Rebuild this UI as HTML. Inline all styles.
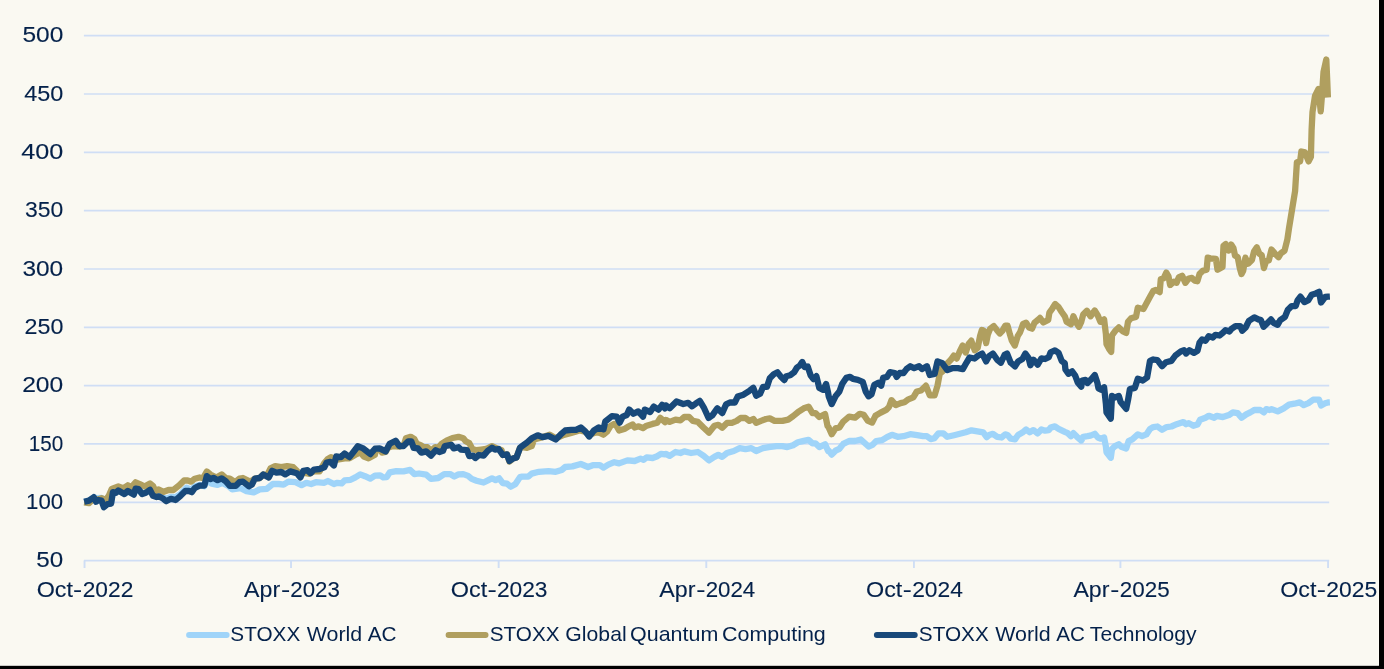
<!DOCTYPE html>
<html><head><meta charset="utf-8"><title>Chart</title>
<style>html,body{margin:0;padding:0;background:#FAF9F2;}body{width:1384px;height:669px;position:relative;overflow:hidden;font-family:"Liberation Sans",sans-serif;}</style>
</head><body>
<svg width="1384" height="669" viewBox="0 0 1384 669" style="position:absolute;left:0;top:0;font-family:'Liberation Sans',sans-serif">
<rect x="0" y="0" width="1384" height="669" fill="#000"/>
<rect x="0" y="0" width="1379.0" height="665.75" fill="#FFFFFA"/>
<rect x="0" y="0" width="1378.45" height="665.2" fill="#FAF9F2"/>
<line x1="83.9" y1="560.63" x2="1329.2" y2="560.63" stroke="#CFDEF5" stroke-width="1.7"/>
<line x1="83.9" y1="502.30" x2="1329.2" y2="502.30" stroke="#CFDEF5" stroke-width="1.7"/>
<line x1="83.9" y1="443.97" x2="1329.2" y2="443.97" stroke="#CFDEF5" stroke-width="1.7"/>
<line x1="83.9" y1="385.64" x2="1329.2" y2="385.64" stroke="#CFDEF5" stroke-width="1.7"/>
<line x1="83.9" y1="327.31" x2="1329.2" y2="327.31" stroke="#CFDEF5" stroke-width="1.7"/>
<line x1="83.9" y1="268.99" x2="1329.2" y2="268.99" stroke="#CFDEF5" stroke-width="1.7"/>
<line x1="83.9" y1="210.66" x2="1329.2" y2="210.66" stroke="#CFDEF5" stroke-width="1.7"/>
<line x1="83.9" y1="152.33" x2="1329.2" y2="152.33" stroke="#CFDEF5" stroke-width="1.7"/>
<line x1="83.9" y1="94.00" x2="1329.2" y2="94.00" stroke="#CFDEF5" stroke-width="1.7"/>
<line x1="83.9" y1="35.67" x2="1329.2" y2="35.67" stroke="#CFDEF5" stroke-width="1.7"/>
<line x1="84.53" y1="560.63" x2="84.53" y2="568.0" stroke="#CFDEF5" stroke-width="1.9"/>
<line x1="291.03" y1="560.63" x2="291.03" y2="568.0" stroke="#CFDEF5" stroke-width="1.9"/>
<line x1="498.66" y1="560.63" x2="498.66" y2="568.0" stroke="#CFDEF5" stroke-width="1.9"/>
<line x1="706.29" y1="560.63" x2="706.29" y2="568.0" stroke="#CFDEF5" stroke-width="1.9"/>
<line x1="913.93" y1="560.63" x2="913.93" y2="568.0" stroke="#CFDEF5" stroke-width="1.9"/>
<line x1="1120.42" y1="560.63" x2="1120.42" y2="568.0" stroke="#CFDEF5" stroke-width="1.9"/>
<line x1="1328.06" y1="560.63" x2="1328.06" y2="568.0" stroke="#CFDEF5" stroke-width="1.9"/>
<path d="M84.2 501.8 L89.0 500.6 L93.8 497.2 L96.7 498.2 L101.5 497.9 L103.9 504.2 L107.5 503.0 L111.1 501.8 L112.9 492.8 L118.3 491.0 L124.3 493.4 L127.8 491.6 L133.8 494.0 L135.6 489.2 L142.2 493.4 L150.0 490.4 L153.0 495.2 L158.9 495.8 L162.5 497.0 L166.1 498.8 L170.9 497.0 L175.7 497.2 L180.5 494.0 L186.5 487.7 L191.2 489.8 L194.8 486.2 L199.6 485.0 L204.4 486.2 L206.8 480.2 L211.6 483.6 L217.6 484.8 L222.3 483.0 L228.3 486.0 L232.2 489.4 L240.6 488.2 L246.5 491.2 L253.7 492.4 L259.7 489.4 L266.9 488.8 L272.8 484.0 L278.8 484.0 L283.6 484.6 L288.4 481.6 L295.6 482.2 L301.6 485.2 L306.3 482.8 L311.1 484.0 L315.9 482.2 L324.3 482.8 L327.9 481.0 L333.9 484.0 L337.4 482.8 L341.6 483.4 L344.6 480.4 L350.6 479.8 L355.4 477.4 L360.2 474.4 L365.0 476.2 L370.3 478.6 L375.0 475.6 L380.2 475.3 L383.2 477.3 L386.7 477.1 L389.7 472.3 L396.3 471.1 L403.5 471.3 L410.1 469.9 L414.3 474.1 L419.0 473.5 L426.2 474.7 L431.0 478.9 L438.2 478.0 L444.2 474.1 L450.1 474.1 L454.3 476.5 L458.5 474.4 L463.3 474.1 L468.1 475.9 L471.7 478.9 L476.5 480.7 L483.6 482.5 L488.4 480.1 L492.0 478.3 L495.6 480.1 L499.2 478.3 L502.8 483.1 L507.0 483.7 L510.6 486.7 L515.3 484.3 L520.0 477.1 L522.2 476.6 L528.2 476.6 L531.7 473.6 L538.9 471.8 L548.5 471.2 L555.7 471.8 L561.7 470.0 L565.2 467.0 L572.4 466.4 L580.8 464.0 L588.0 467.0 L592.8 465.2 L599.9 465.2 L603.5 467.6 L608.3 464.6 L614.3 462.2 L619.1 463.4 L627.4 460.4 L634.6 461.0 L640.6 458.6 L643.6 459.8 L646.6 457.4 L652.6 458.0 L657.3 456.2 L660.9 453.8 L665.0 454.4 L665.8 453.9 L669.7 455.9 L675.5 452.0 L680.4 453.0 L684.3 451.4 L691.1 453.0 L697.9 452.0 L703.7 455.9 L709.0 460.4 L714.4 456.9 L718.3 454.9 L722.2 456.9 L727.0 453.0 L733.8 451.0 L739.7 448.1 L745.5 449.1 L751.3 448.1 L756.2 451.0 L763.0 448.1 L768.8 447.1 L776.6 446.2 L782.4 446.2 L787.3 447.1 L793.1 445.2 L797.9 442.3 L803.8 440.9 L808.6 439.8 L812.5 443.3 L815.4 443.3 L819.3 447.1 L825.1 444.2 L828.1 451.0 L828.7 450.7 L831.7 454.6 L835.5 450.7 L839.4 448.8 L843.3 443.9 L849.1 441.0 L855.0 441.0 L860.8 439.5 L864.7 443.0 L868.6 446.5 L872.5 444.9 L876.3 441.0 L882.2 440.1 L887.0 437.1 L891.9 434.8 L897.7 436.8 L903.5 436.2 L910.3 434.2 L917.1 435.2 L923.0 436.2 L926.9 436.2 L930.7 439.1 L934.6 438.1 L938.5 433.3 L943.4 433.3 L947.3 436.8 L954.1 435.2 L959.9 433.8 L965.7 432.3 L971.5 430.3 L977.4 431.3 L983.2 432.3 L986.7 437.1 L989.2 435.0 L992.9 433.8 L997.2 436.8 L1001.5 437.5 L1005.2 434.4 L1007.6 435.0 L1010.7 438.7 L1015.0 439.3 L1018.1 435.0 L1022.4 432.6 L1026.1 429.5 L1029.7 432.2 L1033.4 430.1 L1037.7 433.4 L1041.4 429.5 L1045.1 430.7 L1048.8 430.1 L1050.6 427.6 L1054.9 426.4 L1058.6 428.9 L1064.8 431.9 L1067.8 433.2 L1070.9 436.2 L1073.4 433.2 L1077.0 436.8 L1081.3 440.5 L1083.2 436.8 L1087.5 436.2 L1090.5 435.6 L1094.8 433.8 L1097.9 437.5 L1101.0 438.7 L1104.1 437.5 L1105.9 446.7 L1106.5 452.2 L1110.8 457.7 L1112.0 449.1 L1115.1 446.1 L1118.8 444.2 L1121.3 446.7 L1126.2 448.5 L1128.6 441.1 L1132.3 439.3 L1137.8 434.4 L1142.1 436.2 L1146.4 434.4 L1150.0 428.9 L1153.3 427.1 L1157.4 426.5 L1162.0 429.8 L1166.7 427.1 L1171.4 426.5 L1176.7 424.2 L1183.4 422.1 L1186.1 424.2 L1188.8 423.1 L1193.4 425.8 L1197.5 424.5 L1200.1 419.8 L1205.5 417.8 L1208.8 415.8 L1214.2 417.8 L1216.8 415.8 L1222.9 417.1 L1228.9 415.1 L1232.9 412.4 L1237.6 413.1 L1241.6 417.8 L1246.2 414.4 L1250.3 412.4 L1254.3 410.0 L1260.3 410.0 L1263.9 412.4 L1266.3 409.1 L1269.6 410.0 L1271.6 409.1 L1277.7 411.4 L1283.7 408.4 L1289.0 404.7 L1294.4 403.7 L1299.7 402.4 L1303.7 405.1 L1308.4 403.1 L1313.1 399.7 L1319.1 399.7 L1321.1 405.5 L1325.1 403.3 L1328.0 402.4 L1329.9 402.3" fill="none" stroke="#9FD4F9" stroke-width="6.3" stroke-linejoin="round" stroke-linecap="butt"/>
<path d="M84.2 502.4 L89.0 503.2 L93.8 498.8 L97.9 499.4 L101.5 498.2 L105.7 500.0 L108.7 496.0 L111.7 488.9 L118.3 486.5 L123.1 488.3 L127.8 485.3 L131.4 487.1 L135.6 482.3 L139.8 484.1 L144.6 486.5 L150.0 483.5 L153.0 485.9 L155.4 491.2 L158.3 489.4 L163.7 491.8 L168.5 490.0 L173.3 490.0 L179.3 485.3 L184.1 480.5 L187.7 480.5 L191.2 481.7 L194.8 478.7 L199.6 477.5 L203.2 478.1 L206.8 471.5 L210.4 474.5 L216.4 477.5 L221.7 474.5 L225.9 478.1 L229.8 478.6 L235.2 482.2 L239.4 478.6 L242.9 478.0 L250.1 481.6 L254.9 478.6 L259.7 478.0 L263.3 474.4 L266.9 475.6 L270.5 468.4 L275.2 466.1 L281.2 467.2 L287.2 466.1 L293.2 467.2 L296.8 470.8 L300.4 475.0 L303.3 472.6 L308.7 473.8 L314.1 471.4 L319.5 471.4 L324.3 463.1 L327.9 458.9 L330.9 457.1 L333.9 458.3 L338.6 459.5 L344.6 458.3 L349.4 458.3 L356.6 454.1 L360.2 452.3 L363.8 456.5 L368.5 458.3 L375.0 454.7 L375.4 450.2 L379.6 449.6 L382.0 452.6 L385.6 452.0 L387.9 447.8 L392.7 446.1 L399.3 446.7 L404.1 444.3 L405.9 438.3 L410.7 436.8 L414.3 438.9 L416.7 443.7 L420.2 444.9 L423.8 447.2 L427.4 447.2 L431.0 450.8 L435.2 447.2 L438.2 447.8 L441.8 443.7 L446.6 440.7 L452.5 438.0 L458.5 436.8 L463.3 438.3 L465.7 441.3 L469.3 443.1 L472.3 449.0 L476.5 450.2 L481.2 449.6 L486.0 449.0 L492.0 446.1 L496.8 448.4 L501.6 450.2 L502.8 455.0 L507.0 454.4 L509.4 461.6 L512.9 458.6 L516.5 457.4 L520.0 447.8 L522.2 447.2 L527.0 447.8 L531.7 446.1 L534.1 439.5 L538.9 438.3 L549.7 434.7 L555.7 438.3 L562.8 435.3 L571.2 432.9 L579.6 430.5 L585.0 431.7 L589.2 434.7 L596.3 432.3 L599.9 432.9 L603.5 434.7 L607.1 431.7 L610.7 425.7 L614.3 423.9 L616.7 426.3 L619.1 430.5 L625.0 428.7 L628.6 426.3 L632.8 424.5 L634.6 427.5 L638.8 426.3 L643.0 428.1 L646.6 425.7 L652.6 423.9 L657.3 422.7 L660.3 417.9 L665.0 422.1 L665.8 419.9 L669.7 421.9 L675.5 419.6 L680.4 420.3 L684.3 417.0 L689.1 417.0 L693.0 420.9 L697.9 421.9 L703.7 427.7 L709.0 432.6 L714.4 425.8 L718.3 424.8 L722.2 427.7 L727.0 422.9 L731.9 422.9 L736.7 420.9 L740.6 418.0 L745.5 418.0 L749.4 420.9 L753.3 419.0 L756.2 422.9 L761.0 420.9 L765.9 419.0 L769.8 418.4 L774.6 420.9 L782.4 420.9 L788.2 419.6 L793.1 416.1 L797.9 412.2 L803.8 408.3 L808.6 406.7 L812.5 413.1 L815.4 413.1 L819.3 417.0 L825.1 414.1 L827.5 425.8 L828.7 427.4 L831.7 434.2 L835.5 428.4 L839.4 427.4 L843.3 421.6 L849.1 416.7 L855.0 417.7 L859.8 413.8 L863.7 414.8 L867.6 420.6 L872.1 422.6 L875.4 415.8 L880.2 412.9 L886.1 409.9 L889.0 407.0 L891.5 400.2 L895.8 405.1 L900.6 403.1 L904.5 402.2 L908.4 399.3 L913.3 397.3 L916.8 391.5 L921.0 390.5 L925.9 385.7 L929.8 395.4 L934.6 395.4 L937.5 385.7 L939.5 375.0 L941.4 369.1 L942.4 371.8 L947.2 363.4 L950.8 359.8 L953.8 355.6 L956.7 358.6 L959.7 351.4 L962.7 345.5 L965.7 352.6 L968.7 343.7 L971.3 340.7 L974.7 350.2 L977.7 347.8 L980.1 335.9 L981.9 329.9 L984.3 331.1 L986.1 343.1 L987.8 334.7 L990.2 328.7 L993.8 326.1 L996.8 329.9 L999.8 333.5 L1002.2 331.1 L1005.2 325.7 L1007.6 325.7 L1010.0 334.7 L1011.8 340.7 L1014.8 345.5 L1017.8 335.9 L1020.1 332.3 L1023.1 323.9 L1026.1 322.7 L1029.1 327.5 L1032.1 328.7 L1034.5 322.7 L1037.5 320.3 L1040.0 317.9 L1043.3 322.5 L1048.2 320.0 L1049.4 312.6 L1052.5 308.3 L1055.2 304.0 L1058.6 307.1 L1061.7 312.0 L1064.8 316.3 L1066.6 321.8 L1070.9 324.3 L1073.4 316.3 L1076.4 323.1 L1078.9 326.8 L1081.3 321.8 L1083.2 314.5 L1086.9 310.8 L1090.5 316.3 L1094.8 310.5 L1097.9 315.7 L1100.4 321.8 L1104.1 319.4 L1105.9 334.1 L1106.5 344.0 L1109.0 348.9 L1111.2 351.9 L1112.0 335.4 L1115.1 331.1 L1118.8 327.4 L1122.5 331.1 L1126.2 332.9 L1128.0 321.8 L1131.1 318.2 L1136.0 316.9 L1137.8 307.7 L1143.4 309.0 L1150.0 296.7 L1153.2 291.0 L1155.9 289.9 L1159.7 292.1 L1160.8 279.0 L1163.5 278.5 L1166.3 272.5 L1168.5 276.3 L1170.1 285.0 L1173.9 281.7 L1176.6 282.8 L1178.8 277.4 L1182.1 275.7 L1185.4 282.8 L1188.6 278.5 L1191.9 277.9 L1194.6 280.6 L1197.4 281.2 L1199.5 274.1 L1202.8 270.8 L1206.6 269.7 L1207.7 257.7 L1210.5 258.3 L1215.9 258.8 L1217.5 269.7 L1222.5 267.0 L1223.5 245.7 L1225.7 244.1 L1228.5 250.6 L1231.2 244.6 L1233.4 247.9 L1235.0 255.5 L1237.7 257.2 L1239.9 268.6 L1241.5 274.1 L1243.2 270.8 L1245.4 257.7 L1248.1 263.7 L1251.9 259.9 L1254.1 251.2 L1256.8 247.4 L1259.5 253.9 L1261.7 255.0 L1263.9 268.1 L1266.1 261.0 L1268.8 260.5 L1271.5 249.5 L1274.8 253.4 L1278.6 257.2 L1280.8 253.4 L1284.6 250.6 L1287.4 239.2 L1289.0 228.3 L1295.1 191.0 L1296.9 162.3 L1300.1 161.4 L1301.4 151.5 L1305.0 152.4 L1308.6 161.4 L1310.9 156.9 L1311.6 130.0 L1312.5 112.0 L1315.0 96.0 L1318.5 89.0 L1320.7 111.3 L1322.0 95.0 L1323.5 72.0 L1326.3 59.5 L1327.2 80.0 L1327.9 97.5" fill="none" stroke="#B09F5F" stroke-width="6.3" stroke-linejoin="round" stroke-linecap="butt"/>
<path d="M84.2 501.8 L89.0 500.6 L93.8 497.2 L96.1 501.8 L98.5 500.0 L101.5 500.6 L103.9 507.2 L107.5 504.2 L111.1 503.6 L112.9 492.2 L115.9 492.8 L118.3 490.4 L121.3 492.2 L124.3 494.0 L127.8 491.0 L130.8 492.8 L133.8 494.6 L135.6 488.6 L138.6 489.2 L142.2 494.0 L145.8 492.8 L150.0 489.8 L153.0 495.8 L156.6 497.0 L158.9 496.4 L162.5 498.2 L166.1 501.2 L170.9 498.8 L175.7 500.0 L180.5 495.8 L185.3 491.0 L188.9 491.0 L191.8 492.2 L194.8 488.0 L199.6 485.6 L204.4 485.6 L206.8 476.1 L210.4 479.0 L213.4 477.8 L217.6 480.2 L221.7 478.4 L225.9 481.4 L229.8 485.8 L235.8 485.8 L239.4 482.2 L242.9 481.6 L248.9 486.4 L251.9 484.6 L254.9 478.6 L259.7 478.0 L263.3 474.4 L268.7 477.4 L272.2 470.8 L276.4 472.6 L281.2 472.0 L285.4 474.4 L290.2 471.4 L296.8 473.2 L300.4 477.4 L303.3 470.8 L307.5 470.2 L310.5 473.2 L314.1 469.6 L319.5 469.0 L324.3 467.2 L326.7 462.5 L330.3 461.9 L333.9 465.5 L336.2 456.5 L341.0 457.1 L344.6 453.5 L349.4 457.1 L353.6 451.7 L357.8 446.3 L362.6 448.1 L370.3 454.1 L375.0 448.7 L379.6 448.4 L385.6 451.4 L389.7 443.7 L395.7 440.7 L399.3 446.1 L403.5 446.1 L408.3 441.3 L411.3 441.3 L413.7 447.8 L417.8 448.4 L421.4 452.6 L426.2 451.4 L431.0 455.6 L435.8 450.2 L439.4 452.0 L443.0 450.8 L444.8 446.1 L451.3 444.9 L453.7 448.4 L458.5 447.2 L460.9 449.6 L466.9 450.2 L469.3 456.2 L472.9 455.6 L475.3 458.0 L478.9 455.0 L483.6 455.6 L487.8 450.8 L492.0 447.8 L495.0 449.6 L498.6 449.0 L502.8 455.0 L507.0 454.4 L509.4 461.0 L512.9 458.6 L516.5 457.4 L520.0 447.8 L522.2 446.1 L527.0 442.5 L531.7 438.3 L537.7 435.3 L542.5 437.1 L548.5 435.9 L555.7 439.5 L560.5 434.7 L565.2 430.5 L571.2 429.9 L576.0 429.9 L580.8 427.5 L585.0 431.1 L589.2 436.5 L593.9 430.5 L598.7 427.5 L603.5 429.3 L605.3 421.5 L611.9 416.1 L616.7 416.7 L619.7 422.7 L622.7 416.7 L626.8 415.0 L629.2 409.6 L633.4 413.8 L638.2 411.4 L643.0 416.7 L644.8 409.6 L650.2 412.0 L653.8 406.6 L658.5 409.6 L662.1 404.8 L665.0 408.4 L665.8 405.4 L669.7 408.3 L676.5 401.5 L683.3 404.0 L688.2 402.8 L692.1 406.3 L695.9 403.4 L699.8 400.9 L703.7 407.3 L708.6 418.0 L712.5 415.1 L717.3 408.3 L722.2 413.1 L726.1 404.4 L729.9 402.5 L734.8 402.5 L737.7 396.6 L743.5 394.7 L749.4 390.8 L753.3 387.9 L756.2 395.7 L760.1 393.7 L763.0 386.9 L766.9 386.9 L769.8 378.2 L773.7 374.3 L777.5 372.3 L780.5 376.2 L784.3 380.1 L786.3 376.2 L790.2 375.3 L794.1 372.3 L797.0 367.5 L799.9 365.5 L802.2 362.0 L804.7 367.1 L807.7 366.5 L810.6 375.3 L813.5 379.1 L816.4 376.2 L819.3 387.9 L823.2 389.8 L826.1 384.0 L828.1 392.7 L828.7 396.3 L831.7 404.1 L835.5 396.3 L839.4 391.5 L842.3 383.7 L846.2 377.9 L850.1 376.9 L853.0 378.9 L857.9 379.8 L862.7 381.8 L865.7 391.5 L868.6 396.3 L871.5 394.4 L874.4 384.7 L878.3 382.7 L881.2 385.7 L883.1 377.9 L887.0 376.9 L889.9 372.1 L894.8 373.0 L896.7 376.9 L899.7 373.0 L903.5 373.0 L906.5 369.1 L910.3 366.2 L914.2 368.2 L919.1 366.2 L922.0 369.1 L926.9 366.2 L929.8 375.0 L934.6 374.0 L937.5 361.4 L942.4 363.3 L947.3 370.1 L952.1 368.2 L957.9 368.2 L962.8 369.1 L966.7 362.3 L969.6 357.5 L974.5 358.5 L978.3 355.5 L982.2 353.6 L986.1 361.4 L989.2 356.0 L992.9 353.5 L997.2 359.7 L1000.9 362.7 L1004.6 354.7 L1007.0 353.5 L1010.7 362.7 L1015.0 366.4 L1018.1 361.5 L1022.4 359.0 L1025.4 353.5 L1028.5 357.8 L1030.4 365.2 L1033.4 359.7 L1037.7 364.6 L1041.4 358.4 L1045.1 359.0 L1048.8 357.2 L1050.6 352.3 L1054.9 350.4 L1058.6 352.9 L1061.7 360.9 L1064.8 363.3 L1065.4 369.5 L1068.4 373.8 L1072.1 371.3 L1075.2 375.6 L1077.7 382.4 L1081.3 386.7 L1082.0 380.5 L1085.6 379.9 L1087.5 383.0 L1091.2 379.3 L1094.8 375.0 L1097.3 382.4 L1098.5 388.5 L1101.0 389.7 L1104.1 387.3 L1105.9 403.9 L1106.5 412.5 L1110.8 418.6 L1112.0 395.9 L1114.5 397.7 L1118.8 395.9 L1120.6 402.0 L1126.2 408.8 L1128.0 400.2 L1129.9 389.1 L1134.8 387.9 L1137.8 378.7 L1142.8 380.5 L1147.1 377.5 L1150.0 360.9 L1153.3 359.5 L1157.4 360.2 L1162.0 366.2 L1166.0 362.2 L1171.4 360.9 L1175.4 355.5 L1180.7 351.5 L1184.1 350.2 L1186.1 353.5 L1189.4 350.2 L1194.1 352.9 L1197.5 350.8 L1199.5 342.8 L1202.1 339.5 L1205.5 340.8 L1208.8 336.1 L1212.8 337.5 L1215.5 334.8 L1219.5 335.5 L1222.9 332.8 L1225.5 330.1 L1229.5 331.5 L1231.5 328.8 L1235.5 326.1 L1240.2 326.1 L1242.2 330.8 L1245.6 327.5 L1248.9 320.8 L1254.3 317.4 L1258.3 319.4 L1260.9 320.1 L1263.6 326.8 L1267.0 323.4 L1271.0 319.4 L1273.6 322.8 L1277.7 324.8 L1280.3 320.1 L1285.0 316.8 L1287.7 310.1 L1291.7 306.1 L1295.7 306.1 L1297.7 300.1 L1300.4 296.7 L1304.4 302.1 L1308.4 300.1 L1311.7 294.7 L1315.8 293.4 L1319.1 291.8 L1321.0 302.5 L1325.1 297.0 L1328.0 296.7 L1329.9 296.6" fill="none" stroke="#18497A" stroke-width="6.3" stroke-linejoin="round" stroke-linecap="butt"/>
<line x1="189.1" y1="634.9" x2="226.6" y2="634.9" stroke="#9FD4F9" stroke-width="6.0" stroke-linecap="round"/>
<line x1="448.6" y1="634.9" x2="485.5" y2="634.9" stroke="#B09F5F" stroke-width="6.0" stroke-linecap="round"/>
<line x1="876.9" y1="634.9" x2="914.7" y2="634.9" stroke="#18497A" stroke-width="6.0" stroke-linecap="round"/>
<defs><filter id="idf" x="0" y="0" width="100%" height="100%" filterUnits="userSpaceOnUse" color-interpolation-filters="sRGB"><feOffset dx="0" dy="0"/></filter></defs><g filter="url(#idf)"><text x="36.34" y="567.2" font-size="21.8" fill="#04214A" stroke="#04214A" stroke-width="0.12" textLength="26.92" lengthAdjust="spacingAndGlyphs">50</text><text x="26.08" y="508.9" font-size="21.8" fill="#04214A" stroke="#04214A" stroke-width="0.12" textLength="37.07" lengthAdjust="spacingAndGlyphs">100</text><text x="28.69" y="450.6" font-size="21.8" fill="#04214A" stroke="#04214A" stroke-width="0.12" textLength="34.50" lengthAdjust="spacingAndGlyphs">150</text><text x="22.17" y="392.2" font-size="21.8" fill="#04214A" stroke="#04214A" stroke-width="0.12" textLength="41.11" lengthAdjust="spacingAndGlyphs">200</text><text x="24.51" y="333.9" font-size="21.8" fill="#04214A" stroke="#04214A" stroke-width="0.12" textLength="38.86" lengthAdjust="spacingAndGlyphs">250</text><text x="22.45" y="275.6" font-size="21.8" fill="#04214A" stroke="#04214A" stroke-width="0.12" textLength="40.78" lengthAdjust="spacingAndGlyphs">300</text><text x="25.07" y="217.3" font-size="21.8" fill="#04214A" stroke="#04214A" stroke-width="0.12" textLength="38.26" lengthAdjust="spacingAndGlyphs">350</text><text x="21.28" y="158.9" font-size="21.8" fill="#04214A" stroke="#04214A" stroke-width="0.12" textLength="42.09" lengthAdjust="spacingAndGlyphs">400</text><text x="24.19" y="100.6" font-size="21.8" fill="#04214A" stroke="#04214A" stroke-width="0.12" textLength="39.13" lengthAdjust="spacingAndGlyphs">450</text><text x="22.47" y="42.3" font-size="21.8" fill="#04214A" stroke="#04214A" stroke-width="0.12" textLength="40.87" lengthAdjust="spacingAndGlyphs">500</text><text x="36.72" y="596.6" font-size="21.8" fill="#04214A" stroke="#04214A" stroke-width="0.12" textLength="36.26" lengthAdjust="spacingAndGlyphs">Oct</text><text x="73.09" y="596.6" font-size="21.8" fill="#04214A" stroke="#04214A" stroke-width="0.12" textLength="9.13" lengthAdjust="spacingAndGlyphs">-</text><text x="82.68" y="596.6" font-size="21.8" fill="#04214A" stroke="#04214A" stroke-width="0.12" textLength="50.64" lengthAdjust="spacingAndGlyphs">2022</text><text x="244.08" y="596.6" font-size="21.8" fill="#04214A" stroke="#04214A" stroke-width="0.12" textLength="36.04" lengthAdjust="spacingAndGlyphs">Apr</text><text x="280.92" y="596.6" font-size="21.8" fill="#04214A" stroke="#04214A" stroke-width="0.12" textLength="9.24" lengthAdjust="spacingAndGlyphs">-</text><text x="290.27" y="596.6" font-size="21.8" fill="#04214A" stroke="#04214A" stroke-width="0.12" textLength="49.50" lengthAdjust="spacingAndGlyphs">2023</text><text x="450.73" y="596.6" font-size="21.8" fill="#04214A" stroke="#04214A" stroke-width="0.12" textLength="36.48" lengthAdjust="spacingAndGlyphs">Oct</text><text x="487.43" y="596.6" font-size="21.8" fill="#04214A" stroke="#04214A" stroke-width="0.12" textLength="9.27" lengthAdjust="spacingAndGlyphs">-</text><text x="496.92" y="596.6" font-size="21.8" fill="#04214A" stroke="#04214A" stroke-width="0.12" textLength="50.63" lengthAdjust="spacingAndGlyphs">2023</text><text x="659.34" y="596.6" font-size="21.8" fill="#04214A" stroke="#04214A" stroke-width="0.12" textLength="36.15" lengthAdjust="spacingAndGlyphs">Apr</text><text x="696.29" y="596.6" font-size="21.8" fill="#04214A" stroke="#04214A" stroke-width="0.12" textLength="9.25" lengthAdjust="spacingAndGlyphs">-</text><text x="705.66" y="596.6" font-size="21.8" fill="#04214A" stroke="#04214A" stroke-width="0.12" textLength="49.57" lengthAdjust="spacingAndGlyphs">2024</text><text x="866.00" y="596.6" font-size="21.8" fill="#04214A" stroke="#04214A" stroke-width="0.12" textLength="36.35" lengthAdjust="spacingAndGlyphs">Oct</text><text x="902.68" y="596.6" font-size="21.8" fill="#04214A" stroke="#04214A" stroke-width="0.12" textLength="9.02" lengthAdjust="spacingAndGlyphs">-</text><text x="912.20" y="596.6" font-size="21.8" fill="#04214A" stroke="#04214A" stroke-width="0.12" textLength="50.70" lengthAdjust="spacingAndGlyphs">2024</text><text x="1073.42" y="596.6" font-size="21.8" fill="#04214A" stroke="#04214A" stroke-width="0.12" textLength="35.95" lengthAdjust="spacingAndGlyphs">Apr</text><text x="1110.33" y="596.6" font-size="21.8" fill="#04214A" stroke="#04214A" stroke-width="0.12" textLength="9.03" lengthAdjust="spacingAndGlyphs">-</text><text x="1119.74" y="596.6" font-size="21.8" fill="#04214A" stroke="#04214A" stroke-width="0.12" textLength="49.94" lengthAdjust="spacingAndGlyphs">2025</text><text x="1280.23" y="596.6" font-size="21.8" fill="#04214A" stroke="#04214A" stroke-width="0.12" textLength="36.19" lengthAdjust="spacingAndGlyphs">Oct</text><text x="1316.73" y="596.6" font-size="21.8" fill="#04214A" stroke="#04214A" stroke-width="0.12" textLength="9.18" lengthAdjust="spacingAndGlyphs">-</text><text x="1326.38" y="596.6" font-size="21.8" fill="#04214A" stroke="#04214A" stroke-width="0.12" textLength="50.89" lengthAdjust="spacingAndGlyphs">2025</text><text x="230.34" y="640.9" font-size="21" fill="#04214A" stroke="#04214A" stroke-width="0" textLength="69.91" lengthAdjust="spacingAndGlyphs">STOXX</text><text x="306.73" y="640.9" font-size="21" fill="#04214A" stroke="#04214A" stroke-width="0" textLength="55.48" lengthAdjust="spacingAndGlyphs">World</text><text x="367.71" y="640.9" font-size="21" fill="#04214A" stroke="#04214A" stroke-width="0" textLength="28.85" lengthAdjust="spacingAndGlyphs">AC</text><text x="489.66" y="640.9" font-size="21" fill="#04214A" stroke="#04214A" stroke-width="0" textLength="69.94" lengthAdjust="spacingAndGlyphs">STOXX</text><text x="565.39" y="640.9" font-size="21" fill="#04214A" stroke="#04214A" stroke-width="0" textLength="61.25" lengthAdjust="spacingAndGlyphs">Global</text><text x="630.04" y="640.9" font-size="21" fill="#04214A" stroke="#04214A" stroke-width="0" textLength="88.27" lengthAdjust="spacingAndGlyphs">Quantum</text><text x="722.07" y="640.9" font-size="21" fill="#04214A" stroke="#04214A" stroke-width="0" textLength="103.73" lengthAdjust="spacingAndGlyphs">Computing</text><text x="918.84" y="640.9" font-size="21" fill="#04214A" stroke="#04214A" stroke-width="0" textLength="69.96" lengthAdjust="spacingAndGlyphs">STOXX</text><text x="995.18" y="640.9" font-size="21" fill="#04214A" stroke="#04214A" stroke-width="0" textLength="55.54" lengthAdjust="spacingAndGlyphs">World</text><text x="1056.19" y="640.9" font-size="21" fill="#04214A" stroke="#04214A" stroke-width="0" textLength="28.68" lengthAdjust="spacingAndGlyphs">AC</text><text x="1089.86" y="640.9" font-size="21" fill="#04214A" stroke="#04214A" stroke-width="0" textLength="106.77" lengthAdjust="spacingAndGlyphs">Technology</text></g>
</svg>
</body></html>
